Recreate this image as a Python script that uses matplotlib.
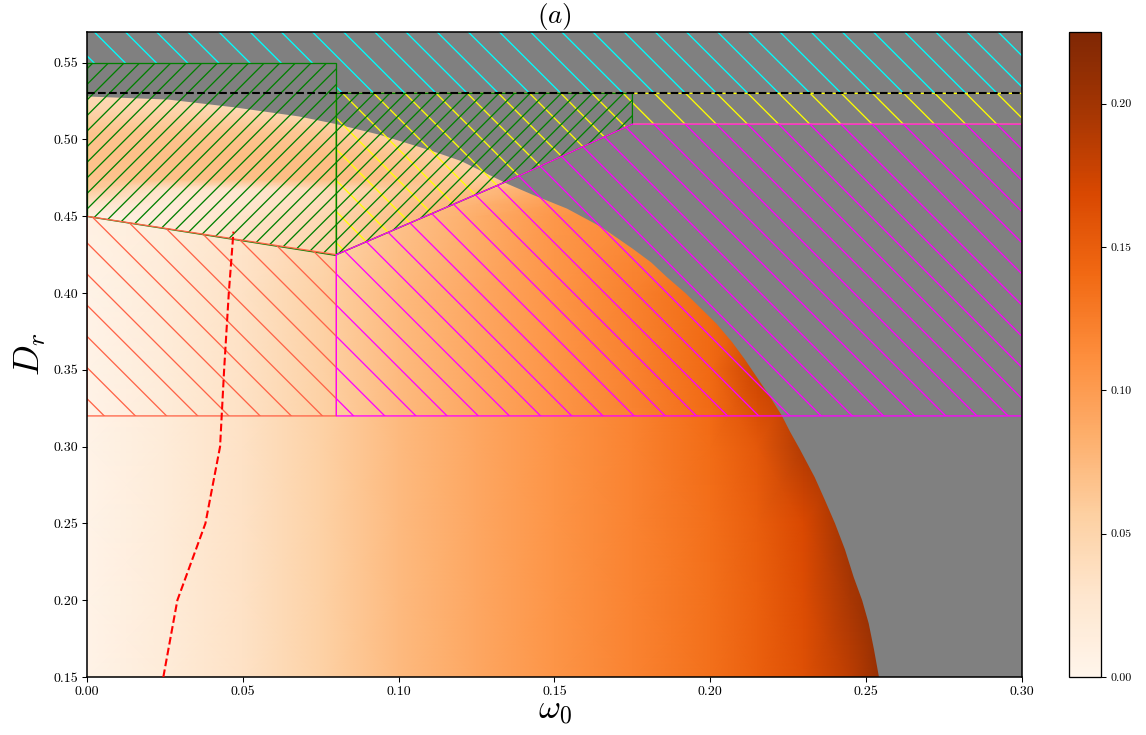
import matplotlib
matplotlib.use("Agg")
import matplotlib.pyplot as plt
import numpy as np
from matplotlib.ticker import FormatStrFormatter

plt.rcParams['font.family'] = 'serif'
plt.rcParams['font.serif'] = ['cmr10', 'DejaVu Serif']
plt.rcParams['mathtext.fontset'] = 'cm'
plt.rcParams['axes.formatter.use_mathtext'] = True
plt.rcParams['hatch.linewidth'] = 0.5

# heat map (value at omega_0 column / D_r row)
omega_cols = [0.0, 0.025, 0.05, 0.075, 0.1, 0.125, 0.15, 0.175, 0.2, 0.215, 0.23, 0.245, 0.26, 0.3]
dr_rows = [0.15, 0.20, 0.25, 0.30, 0.35, 0.40, 0.45, 0.458, 0.468, 0.474, 0.49, 0.505, 0.52, 0.57]
heat = [
    [0.004, 0.018, 0.034, 0.054, 0.074, 0.090, 0.106, 0.120, 0.135, 0.148, 0.162, 0.185, 0.225, 0.225],
    [0.004, 0.018, 0.034, 0.054, 0.074, 0.090, 0.106, 0.120, 0.135, 0.148, 0.165, 0.195, 0.225, 0.225],
    [0.004, 0.018, 0.034, 0.054, 0.074, 0.090, 0.106, 0.120, 0.136, 0.150, 0.168, 0.205, 0.220, 0.220],
    [0.004, 0.018, 0.034, 0.054, 0.074, 0.090, 0.106, 0.120, 0.138, 0.155, 0.190, 0.200, 0.200, 0.200],
    [0.004, 0.018, 0.034, 0.054, 0.074, 0.090, 0.106, 0.121, 0.140, 0.175, 0.180, 0.180, 0.180, 0.180],
    [0.004, 0.018, 0.034, 0.054, 0.074, 0.090, 0.106, 0.122, 0.140, 0.150, 0.150, 0.150, 0.150, 0.150],
    [0.008, 0.016, 0.030, 0.045, 0.068, 0.085, 0.104, 0.115, 0.120, 0.120, 0.120, 0.120, 0.120, 0.120],
    [0.030, 0.017, 0.025, 0.040, 0.065, 0.080, 0.100, 0.110, 0.110, 0.110, 0.110, 0.110, 0.110, 0.110],
    [0.062, 0.030, 0.028, 0.040, 0.060, 0.070, 0.090, 0.100, 0.100, 0.100, 0.100, 0.100, 0.100, 0.100],
    [0.066, 0.068, 0.070, 0.072, 0.070, 0.060, 0.060, 0.070, 0.070, 0.070, 0.070, 0.070, 0.070, 0.070],
    [0.068, 0.070, 0.072, 0.072, 0.065, 0.050, 0.050, 0.060, 0.060, 0.060, 0.060, 0.060, 0.060, 0.060],
    [0.066, 0.066, 0.066, 0.062, 0.050, 0.040, 0.040, 0.040, 0.040, 0.040, 0.040, 0.040, 0.040, 0.040],
    [0.050, 0.050, 0.045, 0.040, 0.035, 0.035, 0.035, 0.035, 0.035, 0.035, 0.035, 0.035, 0.035, 0.035],
    [0.030, 0.030, 0.030, 0.030, 0.030, 0.030, 0.030, 0.030, 0.030, 0.030, 0.030, 0.030, 0.030, 0.030],
]

# edge of the computed region (beyond it: gray)
edge_omega = [0.0, 0.026, 0.047, 0.068, 0.08, 0.094, 0.11, 0.12, 0.128, 0.135, 0.143, 0.154,
              0.165, 0.175, 0.181, 0.186, 0.192, 0.197, 0.202, 0.207, 0.211, 0.215, 0.219,
              0.223, 0.2255, 0.2288, 0.2335, 0.2368, 0.240, 0.2432, 0.246, 0.2487, 0.2508,
              0.2525, 0.2541]
edge_dr = [0.528, 0.526, 0.521, 0.515, 0.510, 0.503, 0.493, 0.486, 0.478, 0.471, 0.464, 0.455,
           0.443, 0.429, 0.420, 0.4105, 0.400, 0.390, 0.380, 0.368, 0.357, 0.345, 0.333,
           0.320, 0.310, 0.298, 0.280, 0.265, 0.250, 0.233, 0.215, 0.200, 0.185,
           0.168, 0.150]

# red dashed curve
red_omega = [0.0245, 0.029, 0.038, 0.0427, 0.044, 0.0455, 0.047]
red_dr = [0.15, 0.20, 0.25, 0.30, 0.35, 0.40, 0.44]

# hatched regions (omega_0, D_r)
cyan_reg = [(0, 0.55), (0.08, 0.55), (0.08, 0.53), (0.3, 0.53), (0.3, 0.57), (0, 0.57)]
green_reg1 = [(0, 0.45), (0, 0.55), (0.08, 0.55), (0.08, 0.425)]
green_reg2 = [(0.08, 0.425), (0.08, 0.53), (0.175, 0.53), (0.175, 0.51), (0.135, 0.473)]
yellow_reg = [(0.08, 0.425), (0.08, 0.53), (0.3, 0.53), (0.3, 0.51), (0.175, 0.51), (0.135, 0.473)]
magenta_reg = [(0.08, 0.32), (0.08, 0.425), (0.135, 0.473), (0.175, 0.51), (0.3, 0.51), (0.3, 0.32)]
coral_reg = [(0, 0.32), (0, 0.45), (0.08, 0.425), (0.08, 0.32)]

dpi = 187
fig = plt.figure(figsize=(1146 / dpi, 735 / dpi), dpi=dpi)
ax = fig.add_axes([0.0759, 0.0789, 0.8159, 0.8776])
cax = fig.add_axes([0.9328, 0.0789, 0.0279, 0.8776])

mesh = ax.pcolormesh(omega_cols, dr_rows, np.array(heat), cmap='Oranges',
                     vmin=0, vmax=0.225, shading='gouraud', zorder=0)

gx = list(edge_omega) + [0.3, 0.3, 0.0]
gy = list(edge_dr) + [0.15, 0.57, 0.57]
ax.fill(gx, gy, color='gray', lw=0, zorder=1)

def hatch_region(pts, color, hatch, lw=0.5):
    xs, ys = zip(*pts)
    ax.fill(xs, ys, facecolor='none', edgecolor=color, hatch=hatch, lw=lw, zorder=2)

hatch_region(cyan_reg, 'cyan', '\\\\', lw=0)
hatch_region(yellow_reg, 'yellow', '\\\\')
hatch_region(green_reg1, 'green', '////')
hatch_region(green_reg2, 'green', '////')
hatch_region(coral_reg, 'tomato', '\\\\')
hatch_region(magenta_reg, 'magenta', '\\\\')

ax.plot([0, 0.3], [0.53, 0.53], 'k--', lw=0.8, zorder=3)
ax.plot(red_omega, red_dr, 'r--', lw=0.8, zorder=3)

ax.set_xlim(0, 0.3)
ax.set_ylim(0.15, 0.57)
ax.set_xticks(np.arange(0, 0.301, 0.05))
ax.set_yticks(np.arange(0.15, 0.551, 0.05))
ax.xaxis.set_major_formatter(FormatStrFormatter('%.2f'))
ax.yaxis.set_major_formatter(FormatStrFormatter('%.2f'))
ax.tick_params(labelsize=5.4, length=2, width=0.4, pad=1.5)
for s in ax.spines.values():
    s.set_linewidth(0.6)

ax.set_xlabel(r'$\omega_0$', fontsize=13, labelpad=0)
ax.set_ylabel(r'$D_r$', fontsize=14, labelpad=2)
ax.set_title(r'$(a)$', fontsize=10.5, pad=0.5)

cb = fig.colorbar(mesh, cax=cax)
cb.set_ticks([0, 0.05, 0.1, 0.15, 0.2])
cb.ax.yaxis.set_major_formatter(FormatStrFormatter('%.2f'))
cb.ax.tick_params(labelsize=4.6, length=2, width=0.4, pad=1.5)
cb.outline.set_linewidth(0.5)

fig.savefig('out.png', dpi=dpi)
